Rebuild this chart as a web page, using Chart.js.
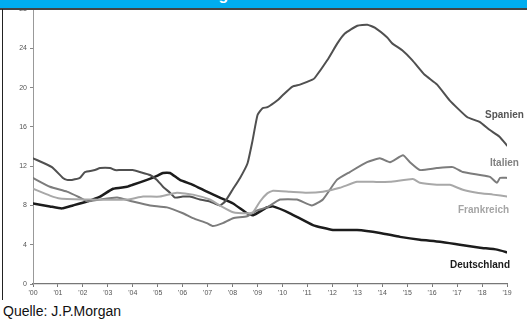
<!DOCTYPE html>
<html>
<head>
<meta charset="utf-8">
<script src="https://cdn.jsdelivr.net/npm/chart.js@4/dist/chart.umd.min.js"></script>
<style>
  html, body { margin: 0; padding: 0; background: #fff; }
  body { width: 527px; height: 322px; position: relative; overflow: hidden; font-family: "Liberation Sans", Arial, sans-serif; }
  #wrap { position: absolute; left: 0; top: 0; width: 527px; height: 300px; }
  #band { position: absolute; left: 0; top: 0; width: 527px; height: 8px; background: #00adef; overflow: hidden; z-index: 3; }
  #band span { position: absolute; left: 0; width: 527px; top: -14px; text-align: center; color: #fff; font: bold 16px "Liberation Sans", Arial, sans-serif; letter-spacing: 1px; }
  #rule { position: absolute; left: 0; top: 8px; width: 527px; height: 2px; background: #444; z-index: 3; }
  #frameL { position: absolute; left: 2px; top: 9px; width: 1px; height: 291px; background: #222; z-index: 3; }
  .lbl { position: absolute; font: bold 10px "Liberation Sans", Arial, sans-serif; z-index: 2; white-space: nowrap; }
  #src { position: absolute; left: 3px; top: 303px; font: 14px "Liberation Sans", Arial, sans-serif; color: #111; }
</style>
</head>
<body>
<div id="band"><span>Arbeitslosigkeit in der Eurozone</span></div>
<div id="rule"></div>
<div id="frameL"></div>
<div id="wrap"><canvas id="c" width="527" height="300"></canvas></div>
<div class="lbl" style="left:485px;top:109px;color:#555;">Spanien</div>
<div class="lbl" style="left:490px;top:157px;color:#808080;">Italien</div>
<div class="lbl" style="left:458px;top:204px;color:#a5a5a5;">Frankreich</div>
<div class="lbl" style="left:450px;top:259px;color:#1a1a1a;">Deutschland</div>
<div id="src">Quelle: J.P.Morgan</div>
<script>
// Arbeitslosenquote in %, Zeitachse in Jahren seit 2000
const spanienX = [0, 0.76, 1.2, 1.36, 1.56, 1.88, 2.08, 2.48, 2.69, 3.09, 3.29, 3.49, 4.0, 4.29, 4.69, 4.97, 5.21, 5.49, 5.69, 6.01, 6.29, 6.69, 7.09, 7.49, 7.7, 8.0, 8.3, 8.6, 8.8, 9.0, 9.2, 9.4, 9.8, 10.0, 10.4, 10.7, 11.2, 11.3, 11.8, 12.2, 12.5, 13.0, 13.4, 13.7, 14.2, 14.4, 14.8, 15.2, 15.7, 16.2, 16.7, 17.4, 17.9, 18.3, 18.7, 19.0];
const spanienY = [12.8, 11.9, 10.8, 10.6, 10.6, 10.8, 11.4, 11.6, 11.8, 11.8, 11.6, 11.6, 11.6, 11.4, 11.1, 10.6, 9.9, 9.3, 8.8, 8.9, 8.9, 8.6, 8.4, 8.0, 8.4, 9.6, 10.8, 12.3, 14.6, 17.2, 17.9, 18.0, 18.7, 19.2, 20.1, 20.3, 20.8, 21.0, 22.8, 24.5, 25.5, 26.3, 26.4, 26.1, 25.1, 24.5, 23.8, 22.8, 21.3, 20.3, 18.7, 17.0, 16.5, 15.7, 15.0, 14.1];

const italienX = [0, 0.68, 1.36, 1.88, 2.2, 2.69, 3.37, 4.0, 4.69, 5.37, 6.01, 6.41, 6.97, 7.21, 7.61, 8.02, 8.58, 8.98, 9.38, 9.9, 10.58, 11.18, 11.62, 12.18, 12.7, 13.39, 13.9, 14.31, 14.83, 15.11, 15.51, 16.19, 16.83, 17.23, 17.92, 18.32, 18.6, 18.72, 19.04];
const italienY = [10.8, 9.9, 9.4, 8.8, 8.4, 8.6, 8.8, 8.4, 8.0, 7.8, 7.2, 6.7, 6.2, 5.9, 6.2, 6.7, 6.9, 7.5, 7.8, 8.6, 8.6, 8.0, 8.6, 10.6, 11.4, 12.4, 12.8, 12.4, 13.1, 12.4, 11.6, 11.8, 11.9, 11.4, 11.1, 10.9, 10.3, 10.8, 10.8];

const frankreichX = [0, 0.68, 1.08, 2.28, 3.77, 4.41, 5.09, 5.77, 6.41, 7.09, 7.49, 8.02, 8.58, 8.82, 9.1, 9.38, 9.62, 10.3, 10.98, 11.62, 12.3, 12.99, 13.63, 14.31, 15.23, 15.51, 16.19, 16.71, 17.23, 17.8, 18.44, 19.04];
const frankreichY = [9.7, 9.0, 8.7, 8.6, 8.6, 8.9, 8.9, 9.3, 9.1, 8.6, 8.0, 7.3, 7.2, 7.3, 8.4, 9.2, 9.5, 9.4, 9.3, 9.4, 9.8, 10.4, 10.4, 10.4, 10.7, 10.3, 10.1, 10.1, 9.6, 9.3, 9.1, 8.9];

const deutschlandX = [0, 0.68, 1.16, 1.6, 2.16, 2.69, 3.21, 3.77, 4.0, 4.57, 4.97, 5.21, 5.49, 5.89, 6.41, 6.97, 7.49, 8.02, 8.58, 8.82, 9.38, 9.62, 10.3, 11.22, 12.02, 12.99, 13.91, 14.71, 15.51, 16.31, 17.11, 17.92, 18.6, 19.04];
const deutschlandY = [8.2, 7.9, 7.7, 8.0, 8.4, 8.9, 9.7, 9.9, 10.1, 10.6, 11.0, 11.3, 11.3, 10.6, 10.1, 9.4, 8.8, 8.2, 7.2, 7.0, 7.8, 7.9, 7.2, 6.0, 5.5, 5.5, 5.2, 4.8, 4.5, 4.3, 4.0, 3.7, 3.5, 3.2];

const yTicks = [0, 4, 8, 12, 16, 20, 24, 28];

function pts(xs, ys) { return xs.map((x, i) => ({ x: x, y: ys[i] })); }

const tickFont = { family: "Liberation Sans, Arial, sans-serif", size: 7 };

new Chart(document.getElementById('c'), {
  type: 'line',
  data: {
    datasets: [
      { label: 'Frankreich', data: pts(frankreichX, frankreichY), borderColor: '#a8a8a8', borderWidth: 2 },
      { label: 'Italien', data: pts(italienX, italienY), borderColor: '#7c7c7c', borderWidth: 2 },
      { label: 'Spanien', data: pts(spanienX, spanienY), borderColor: '#505050', borderWidth: 2 },
      { label: 'Deutschland', data: pts(deutschlandX, deutschlandY), borderColor: '#1c1c1c', borderWidth: 2.5 }
    ]
  },
  options: {
    responsive: false,
    animation: false,
    events: [],
    elements: { point: { radius: 0 }, line: { tension: 0.15, borderJoinStyle: 'round', borderCapStyle: 'round' } },
    layout: { padding: { left: 0, right: 20, top: 9, bottom: 0 } },
    plugins: { legend: { display: false }, tooltip: { enabled: false } },
    scales: {
      x: {
        type: 'linear', min: 0, max: 19,
        afterFit: s => { s.height = 16; },
        border: { color: '#777', width: 1.2 },
        grid: { drawOnChartArea: false, tickLength: 3, color: '#777' },
        ticks: {
          stepSize: 1, padding: 2, color: '#555', font: tickFont, maxRotation: 0, autoSkip: false,
          callback: v => "'" + String(v).padStart(2, '0')
        }
      },
      y: {
        min: 0, max: 28,
        afterFit: s => { s.width = 33; },
        afterBuildTicks: s => { s.ticks = yTicks.map(v => ({ value: v })); },
        border: { color: '#999', width: 1 },
        grid: { drawOnChartArea: false, tickLength: 3, color: '#888' },
        ticks: { padding: 3, color: '#555', font: tickFont }
      }
    }
  }
});
</script>
</body>
</html>
